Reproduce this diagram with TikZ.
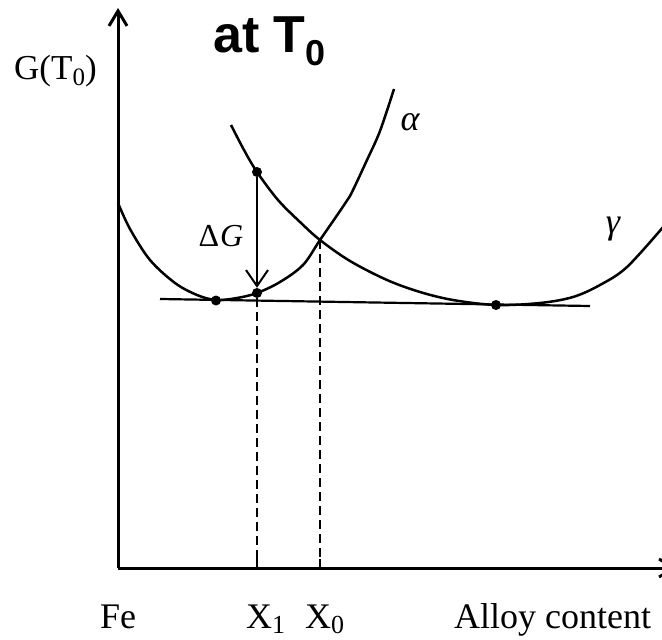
\documentclass[tikz,border=0pt]{standalone}
\usepackage{fontspec}
\setmainfont{Liberation Serif}
\newfontfamily\headfont{Liberation Sans}
\usetikzlibrary{arrows.meta}
\begin{document}
\begin{tikzpicture}[x=1pt,y=-1pt,
  axis/.style={line width=3pt},
  curve/.style={line width=2.5pt},
  dot/.style={circle,fill=black,inner sep=0pt,minimum size=10pt},
  guide/.style={line width=2pt,dash pattern=on 9pt off 5pt},
  tick/.style={line width=2pt},
  lab/.style={font=\fontsize{36}{36}\selectfont, inner sep=0pt, anchor=base west},
  greek/.style={font=\fontsize{36}{36}\selectfont\itshape, inner sep=0pt},
  barb/.style={-{Straight Barb[length=15pt,width=18pt]}}
]
\clip (0,0) rectangle (662,640);
% axes
\coordinate (O) at (118,568);
\coordinate (ytop) at (118,8);
\coordinate (xend) at (677,568);
\draw[axis,barb] (O) -- (ytop);
\draw[axis,barb] (O) -- (xend);
% alpha curve
\draw[curve] plot[smooth,tension=0.55] coordinates {(118,203) (130,229) (150,260) (175,283) (197,295) (216,300) (237,298) (257,293) (280,282) (303,265) (320,240) (340,211) (350,196) (367,160) (380,131) (394,89)};
% gamma curve
\draw[curve] plot[smooth,tension=0.55] coordinates {(231,125) (244,150) (257,172) (278,200) (300,222) (320,240) (350,261) (387,280) (420,292) (453,300) (496,305) (540,303) (573,297) (600,285) (627,267) (664,226)};
% common tangent
\coordinate (tl) at (160,299);
\coordinate (tr) at (590,306);
\draw[line width=2.2pt] (tl) -- (tr);
% points
\node[dot] (amin) at (216,300.5) {};
\node[dot] (gmin) at (496,305) {};
\node[dot] (g1) at (257,172) {};
\node[dot] (a1) at (257,293) {};
\coordinate (x0p) at (320,240);
% delta G arrow
\draw[line width=2pt,-{Straight Barb[length=16pt,width=22pt]}] (g1) -- (a1);
% dashed guides and ticks
\coordinate (t1) at (257,559);
\coordinate (b1) at (257,568);
\coordinate (t0) at (320,559);
\coordinate (b0) at (320,568);
\draw[guide] (a1) -- (t1);
\draw[guide] (x0p) -- (t0);
\draw[tick] (t1) -- (b1);
\draw[tick] (t0) -- (b0);
% labels
\node[greek] (alab) at (410,122) {α};
\node[greek] (glab) at (613,229) {γ};
\node[inner sep=0pt,font=\fontsize{32}{32}\selectfont] (dg) at (221,236) {Δ\kern1pt{\itshape G}};
\node[inner sep=0pt,anchor=base west,font=\fontsize{35}{35}\selectfont] (gt) at (14,79) {G(T\raisebox{-6pt}{\fontsize{25}{25}\selectfont 0})};
\node[inner sep=0pt,anchor=base west,font=\headfont\bfseries\fontsize{52}{52}\selectfont] (title) at (213,52) {at T\raisebox{-13pt}{\fontsize{36}{36}\selectfont 0}};
\node[lab] (fe) at (100,628) {Fe};
\node[lab] (x1) at (246,628) {X\raisebox{-5pt}{\fontsize{26}{26}\selectfont 1}};
\node[lab] (x0) at (305,628) {X\raisebox{-5pt}{\fontsize{26}{26}\selectfont 0}};
\node[lab] (al) at (454,628) {Alloy content};
\end{tikzpicture}
\end{document}
